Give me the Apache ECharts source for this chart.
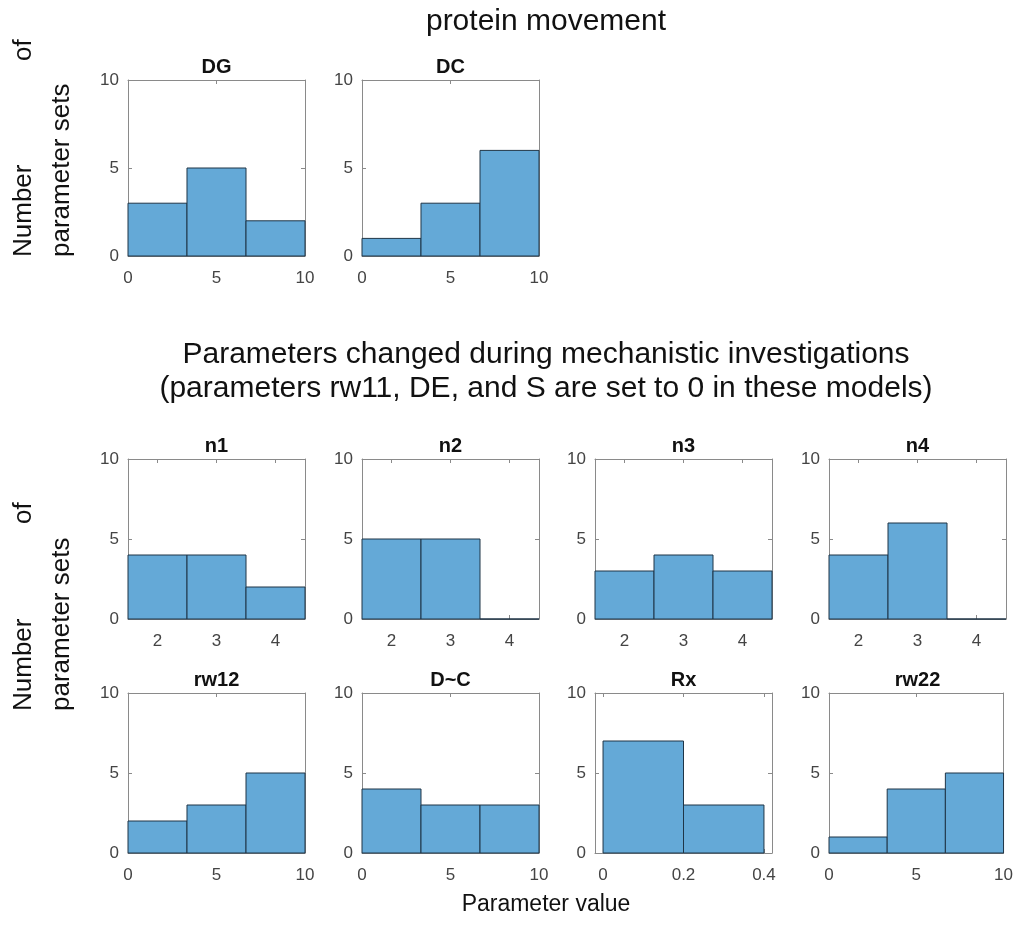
<!DOCTYPE html>
<html>
<head>
<meta charset="utf-8">
<script src="https://cdn.jsdelivr.net/npm/echarts@6/dist/echarts.min.js"></script>
<style>
html,body{margin:0;padding:0;background:#fff;}
#chart{width:1016px;height:943px;}
</style>
</head>
<body>
<div id="chart"></div>
<script>
// ---- data ----
const panelNames = ['DG', 'DC', 'n1', 'n2', 'n3', 'n4', 'rw12', 'D~C', 'Rx', 'rw22'];
const edgesRate = [0, 3.333, 6.667, 10];
const edgesHill = [1.5, 2.5, 3.5, 4.5];
const edgesRx = [0, 0.2, 0.4];
const countsDG = [3, 5, 2];
const countsDC = [1, 3, 6];
const countsN1 = [4, 4, 2];
const countsN2 = [5, 5, 0];
const countsN3 = [3, 4, 3];
const countsN4 = [4, 6, 0];
const countsRw12 = [2, 3, 5];
const countsDtC = [4, 3, 3];
const countsRx = [7, 3];
const countsRw22 = [1, 4, 5];
const ticksRate = [0, 5, 10];
const ticksHill = [2, 3, 4];
const ticksRx = [0, 0.2, 0.4];
const rangeRate = [0, 10];
const rangeHill = [1.5, 4.5];
const rangeRx = [-0.02, 0.42];
const yRange = [0, 10];
const yStep = 5;
const titleTop = 'protein movement';
const titleMid1 = 'Parameters changed during mechanistic investigations';
const titleMid2 = '(parameters rw11, DE, and S are set to 0 in these models)';
const xLabel = 'Parameter value';
const yLabelA = 'Number';
const yLabelB = 'of';
const yLabelC = 'parameter sets';

const panels = [
  { edges: edgesRate, counts: countsDG, ticks: ticksRate, range: rangeRate },
  { edges: edgesRate, counts: countsDC, ticks: ticksRate, range: rangeRate },
  { edges: edgesHill, counts: countsN1, ticks: ticksHill, range: rangeHill },
  { edges: edgesHill, counts: countsN2, ticks: ticksHill, range: rangeHill },
  { edges: edgesHill, counts: countsN3, ticks: ticksHill, range: rangeHill },
  { edges: edgesHill, counts: countsN4, ticks: ticksHill, range: rangeHill },
  { edges: edgesRate, counts: countsRw12, ticks: ticksRate, range: rangeRate },
  { edges: edgesRate, counts: countsDtC, ticks: ticksRate, range: rangeRate },
  { edges: edgesRx, counts: countsRx, ticks: ticksRx, range: rangeRx },
  { edges: edgesRate, counts: countsRw22, ticks: ticksRate, range: rangeRate }
];

// ---- layout ----
const PW = 177;
const layout = [
  { left: 128, top: 80, h: 176 }, { left: 362, top: 80, h: 176 },
  { left: 128, top: 459, h: 160 }, { left: 362, top: 459, h: 160 },
  { left: 595, top: 459, h: 160 }, { left: 829, top: 459, h: 160 },
  { left: 128, top: 693, h: 160 }, { left: 362, top: 693, h: 160 },
  { left: 595, top: 693, h: 160 }, { left: 829, top: 693, h: 160 }
];

const FONT = '"Liberation Sans", Arial, Helvetica, sans-serif';
const AXIS_COLOR = '#8a8a8a';
const LABEL_COLOR = '#444444';
const BAR_FILL = '#64a9d7';
const BAR_EDGE = '#1f3547';

const grids = [], xAxes = [], yAxes = [], series = [], graphics = [];

panels.forEach((p, i) => {
  const L = layout[i];
  grids.push({ left: L.left, top: L.top, width: PW, height: L.h, containLabel: false });
  const common = {
    type: 'value', gridIndex: i, min: p.range[0], max: p.range[1],
    splitLine: { show: false },
    axisLine: { show: true, onZero: false, lineStyle: { color: AXIS_COLOR, width: 1 } }
  };
  xAxes.push(Object.assign({}, common, {
    position: 'bottom',
    axisTick: { show: true, inside: true, length: 4, customValues: p.ticks, lineStyle: { color: AXIS_COLOR } },
    axisLabel: { show: true, customValues: p.ticks, color: LABEL_COLOR, fontSize: 17, fontFamily: FONT, margin: 14 }
  }));
  xAxes.push(Object.assign({}, common, {
    position: 'top',
    axisTick: { show: true, inside: true, length: 4, customValues: p.ticks, lineStyle: { color: AXIS_COLOR } },
    axisLabel: { show: false }
  }));
  const ycommon = {
    type: 'value', gridIndex: i, min: yRange[0], max: yRange[1], interval: yStep,
    splitLine: { show: false },
    axisLine: { show: true, onZero: false, lineStyle: { color: AXIS_COLOR, width: 1 } }
  };
  yAxes.push(Object.assign({}, ycommon, {
    position: 'left',
    axisTick: { show: true, inside: true, length: 4, lineStyle: { color: AXIS_COLOR } },
    axisLabel: { show: true, color: LABEL_COLOR, fontSize: 17, fontFamily: FONT, margin: 9 }
  }));
  yAxes.push(Object.assign({}, ycommon, {
    position: 'right',
    axisTick: { show: true, inside: true, length: 4, lineStyle: { color: AXIS_COLOR } },
    axisLabel: { show: false }
  }));

  const data = p.counts.map((c, k) => [p.edges[k], p.edges[k + 1], c]);
  series.push({
    type: 'custom',
    xAxisIndex: 2 * i,
    yAxisIndex: 2 * i,
    data: data,
    renderItem: function (params, api) {
      const x0 = api.value(0), x1 = api.value(1), c = api.value(2);
      const a = api.coord([x0, c]);
      const b = api.coord([x1, 0]);
      return {
        type: 'rect',
        shape: { x: a[0], y: a[1], width: b[0] - a[0], height: b[1] - a[1] },
        style: { fill: BAR_FILL, stroke: BAR_EDGE, lineWidth: 1 }
      };
    },
    animation: false,
    silent: true
  });

  graphics.push({
    type: 'text', x: L.left + PW / 2, y: L.top - 13,
    style: { text: panelNames[i], fill: '#111', font: 'bold 20px ' + FONT, textAlign: 'center', textVerticalAlign: 'middle' }
  });
});

function bigText(txt, x, y, size) {
  return { type: 'text', x: x, y: y,
    style: { text: txt, fill: '#111', font: size + 'px ' + FONT, textAlign: 'center', textVerticalAlign: 'middle' } };
}
graphics.push(bigText(titleTop, 546, 22, 30));
graphics.push(bigText(titleMid1, 546, 355, 30));
graphics.push(bigText(titleMid2, 546, 389, 30));
graphics.push(bigText(xLabel, 546, 905, 23));

function vText(txt, x, y) {
  return { type: 'text', x: x, y: y, rotation: Math.PI / 2,
    style: { text: txt, fill: '#111', font: '26px ' + FONT, textAlign: 'left', textVerticalAlign: 'middle' } };
}
graphics.push(vText(yLabelA, 24, 257));
graphics.push(vText(yLabelB, 24, 61));
graphics.push(vText(yLabelC, 62, 257));
graphics.push(vText(yLabelA, 24, 711));
graphics.push(vText(yLabelB, 24, 524));
graphics.push(vText(yLabelC, 62, 711));

const chart = echarts.init(document.getElementById('chart'), null, { renderer: 'canvas' });
chart.setOption({
  backgroundColor: '#ffffff',
  animation: false,
  grid: grids,
  xAxis: xAxes,
  yAxis: yAxes,
  series: series,
  graphic: graphics
});
</script>
</body>
</html>
